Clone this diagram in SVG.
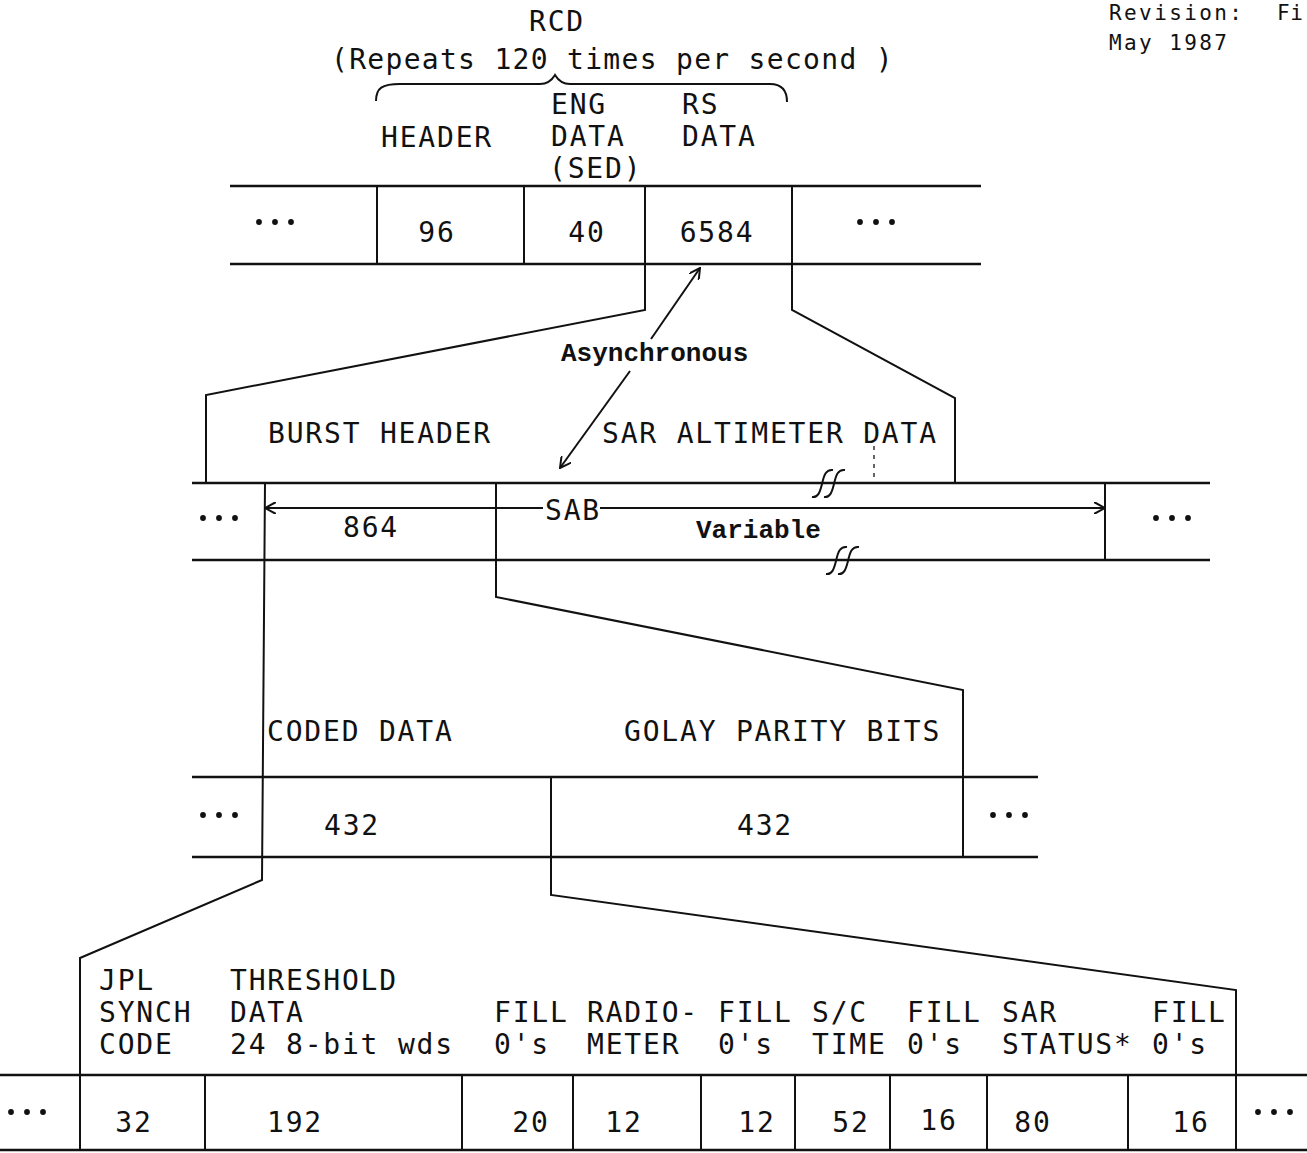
<svg xmlns="http://www.w3.org/2000/svg" width="1307" height="1153" viewBox="0 0 1307 1153">
<style>
.t{font-family:"DejaVu Sans Mono","Liberation Mono",monospace;font-size:28px;letter-spacing:1.8px;fill:#111}
.s{font-family:"Liberation Mono","DejaVu Sans Mono",monospace;font-size:26px;font-weight:bold;fill:#111}
.r{font-family:"DejaVu Sans Mono","Liberation Mono",monospace;font-size:21px;letter-spacing:2.4px;fill:#111}
.m{text-anchor:middle}
.h{stroke:#111;stroke-width:2.6;fill:none}
.v{stroke:#111;stroke-width:2;fill:none}
.d{fill:#111}
</style>
<defs>
<marker id="ah" viewBox="0 0 12 12" refX="11" refY="6" markerWidth="12" markerHeight="12" markerUnits="userSpaceOnUse" orient="auto-start-reverse">
<path d="M0,0 L11,6 L0,12" fill="none" stroke="#111" stroke-width="2"/>
</marker>
<g id="dots"><circle cx="0" cy="0" r="2.9"/><circle cx="16" cy="0" r="2.9"/><circle cx="32" cy="0" r="2.9"/></g>
</defs>
<rect width="1307" height="1153" fill="#fff"/>

<g id="revision">
<text class="r" x="1109" y="20">Revision:</text>
<text class="r" x="1277" y="20" style="letter-spacing:0.5px">Fi</text>
<text class="r" x="1109" y="50">May 1987</text>
</g>

<g id="rcd-title">
<text class="t m" x="557" y="31">RCD</text>
<text class="t" x="331" y="69" style="letter-spacing:1.3px">(Repeats 120 times per second )</text>
<path class="v" d="M376,101 C376,88 382,84 400,84 L540,84 C548,84 552,80 555,75 C558,80 562,84 570,84 L770,84 C782,84 787,90 787,102"/>
<text class="t" x="381" y="147">HEADER</text>
<text class="t" x="551" y="114">ENG</text>
<text class="t" x="551" y="146">DATA</text>
<text class="t" x="549" y="178">(SED)</text>
<text class="t" x="682" y="114">RS</text>
<text class="t" x="682" y="146">DATA</text>
</g>

<g id="row-rcd">
<line class="h" x1="230" y1="186" x2="981" y2="186"/>
<line class="h" x1="230" y1="264" x2="981" y2="264"/>
<line class="v" x1="377" y1="186" x2="377" y2="264"/>
<line class="v" x1="524" y1="186" x2="524" y2="264"/>
<use href="#dots" x="259" y="222" class="d"/>
<text class="t m" x="437" y="242">96</text>
<text class="t m" x="587" y="242">40</text>
<text class="t m" x="717" y="242">6584</text>
<use href="#dots" x="860" y="222" class="d"/>
</g>

<g id="burst-labels">
<text class="t" x="268" y="443">BURST HEADER</text>
<text class="t" x="602" y="443">SAR ALTIMETER DATA</text>
<line x1="874" y1="446" x2="874" y2="480" stroke="#333" stroke-width="1.5" stroke-dasharray="4,5"/>
</g>

<g id="row-sab">
<line class="h" x1="192" y1="483" x2="1210" y2="483"/>
<line class="h" x1="192" y1="560" x2="1210" y2="560"/>
<line class="v" x1="1105" y1="483" x2="1105" y2="560"/>
<use href="#dots" x="203" y="518" class="d"/>
<use href="#dots" x="1156" y="518" class="d"/>
<text class="t m" x="371" y="537">864</text>
<text class="t" x="545" y="520">SAB</text>
<text class="s" x="696" y="538">Variable</text>
<g class="v" stroke-width="2.6">
<path d="M812,497 C818,498 820,492 822,484 C824,475 826,469 833,470"/>
<path d="M824,497 C830,498 832,492 834,484 C836,475 838,469 845,470"/>
<path d="M826,574 C832,575 834,569 836,561 C838,552 840,546 847,547"/>
<path d="M838,574 C844,575 846,569 848,561 C850,552 852,546 859,547"/>
</g>
</g>

<g id="coded-labels">
<text class="t" x="267" y="741">CODED DATA</text>
<text class="t" x="624" y="741">GOLAY PARITY BITS</text>
</g>

<g id="row-coded">
<line class="h" x1="192" y1="777" x2="1038" y2="777"/>
<line class="h" x1="192" y1="857" x2="1038" y2="857"/>
<use href="#dots" x="203" y="815" class="d"/>
<use href="#dots" x="993" y="815" class="d"/>
<text class="t m" x="352" y="835">432</text>
<text class="t m" x="765" y="835">432</text>
</g>

<g id="frame-labels">
<text class="t" x="99" y="990">JPL</text>
<text class="t" x="99" y="1022">SYNCH</text>
<text class="t" x="99" y="1054">CODE</text>
<text class="t" x="230" y="990">THRESHOLD</text>
<text class="t" x="230" y="1022">DATA</text>
<text class="t" x="230" y="1054">24 8-bit wds</text>
<text class="t" x="494" y="1022">FILL</text>
<text class="t" x="494" y="1054">0's</text>
<text class="t" x="587" y="1022">RADIO-</text>
<text class="t" x="587" y="1054">METER</text>
<text class="t" x="718" y="1022">FILL</text>
<text class="t" x="718" y="1054">0's</text>
<text class="t" x="812" y="1022">S/C</text>
<text class="t" x="812" y="1054">TIME</text>
<text class="t" x="907" y="1022">FILL</text>
<text class="t" x="907" y="1054">0's</text>
<text class="t" x="1002" y="1022">SAR</text>
<text class="t" x="1002" y="1054">STATUS*</text>
<text class="t" x="1152" y="1022">FILL</text>
<text class="t" x="1152" y="1054">0's</text>
</g>

<g id="row-frame">
<line class="h" x1="0" y1="1075" x2="1307" y2="1075"/>
<line class="h" x1="0" y1="1150" x2="1307" y2="1150" stroke="#555"/>
<line class="v" x1="205" y1="1075" x2="205" y2="1150"/>
<line class="v" x1="462" y1="1075" x2="462" y2="1150"/>
<line class="v" x1="573" y1="1075" x2="573" y2="1150"/>
<line class="v" x1="701" y1="1075" x2="701" y2="1150"/>
<line class="v" x1="795" y1="1075" x2="795" y2="1150"/>
<line class="v" x1="890" y1="1075" x2="890" y2="1150"/>
<line class="v" x1="987" y1="1075" x2="987" y2="1150"/>
<line class="v" x1="1128" y1="1075" x2="1128" y2="1150"/>
<use href="#dots" x="11" y="1112" class="d"/>
<use href="#dots" x="1258" y="1112" class="d"/>
<text class="t m" x="134" y="1132">32</text>
<text class="t m" x="295" y="1132">192</text>
<text class="t m" x="531" y="1132">20</text>
<text class="t m" x="624" y="1132">12</text>
<text class="t m" x="757" y="1132">12</text>
<text class="t m" x="851" y="1132">52</text>
<text class="t m" x="939" y="1130">16</text>
<text class="t m" x="1033" y="1132">80</text>
<text class="t m" x="1191" y="1132">16</text>
</g>

<g id="connectors">
<path class="v" d="M645,186 L645,310 L206,395 L206,483"/>
<path class="v" d="M792,186 L792,310 L955,398 L955,483"/>
<path class="v" d="M265,483 L262,880 L80,958 L80,1150"/>
<path class="v" d="M496,483 L496,597 L963,690 L963,857"/>
<path class="v" d="M551,777 L551,895 L1236,990 L1236,1150"/>
<line class="v" x1="700" y1="268" x2="651" y2="339" marker-start="url(#ah)"/>
<line class="v" x1="630" y1="371" x2="560" y2="468" marker-end="url(#ah)"/>
<text class="s" x="561" y="361">Asynchronous</text>
<line class="v" x1="265" y1="508" x2="543" y2="508" marker-start="url(#ah)"/>
<line class="v" x1="600" y1="508" x2="1105" y2="508" marker-end="url(#ah)"/>
</g>
</svg>
